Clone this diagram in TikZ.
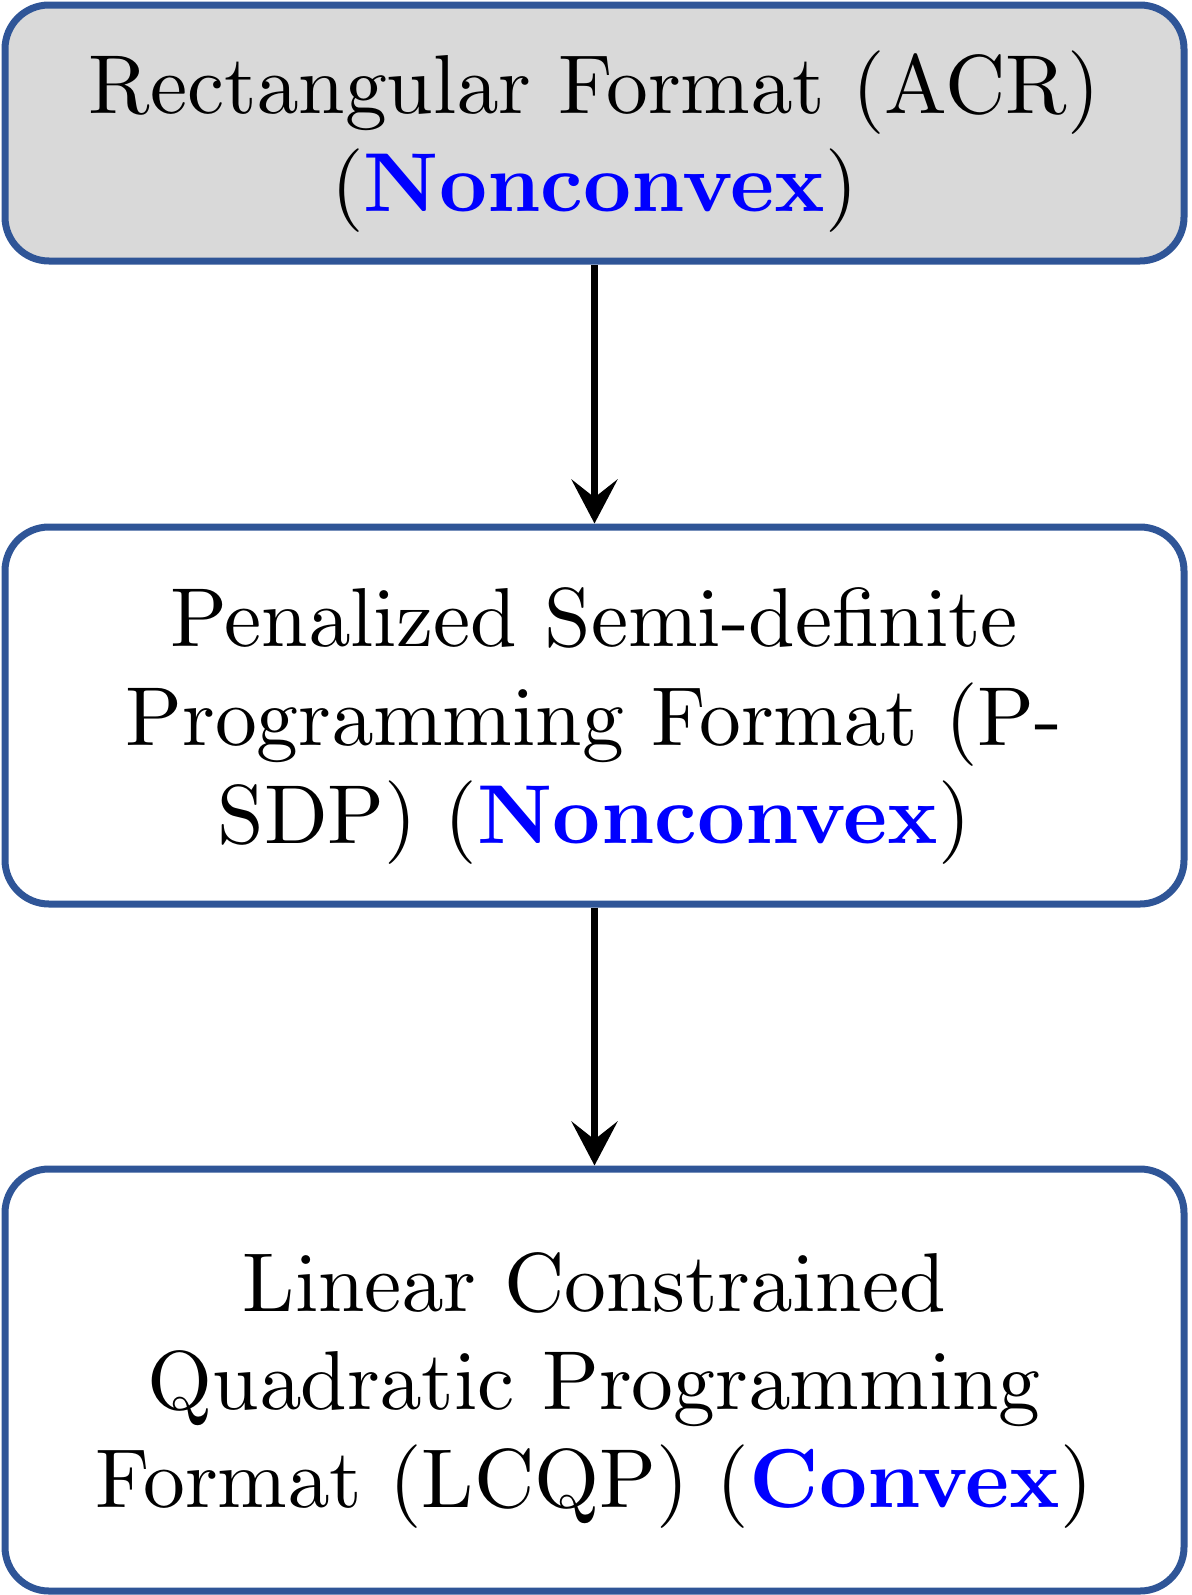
\documentclass[tikz,border=0pt]{standalone}
\usetikzlibrary{arrows.meta}
\definecolor{boxblue}{HTML}{2F5597}
\definecolor{boxgray}{HTML}{D9D9D9}
\font\flowrm=cmr10 at 20.9pt
\font\flowbf=cmbx10 at 20.9pt
\newcommand{\hl}[1]{\textcolor{blue}{\flowbf #1}}
\newcommand{\topgap}{\rule{0pt}{20pt}}
\begin{document}
\begin{tikzpicture}[x=0.25pt,y=-0.25pt,
  flowbox/.style={draw=boxblue,line width=1.75pt,rounded corners=11pt,
    minimum width=294.75pt,align=center,inner sep=0pt,
    font=\fontsize{20.9}{24.6}\selectfont\flowrm},
  flowarrow/.style={line width=1.75pt,-{Stealth[length=11pt,width=11.5pt,inset=4.5pt]}}]
\useasboundingbox (0,0) rectangle (1191,1595);
\node[flowbox,fill=boxgray,minimum height=64pt] (acr) at (594.5,133)
  {\topgap Rectangular Format (ACR)\\(\hl{Nonconvex})};
\node[flowbox,fill=white,minimum height=94.25pt] (psdp) at (594.5,715.5)
  {\topgap Penalized Semi-definite\\Programming Format (P-\\SDP) (\hl{Nonconvex})};
\node[flowbox,fill=white,minimum height=105.5pt] (lcqp) at (594.5,1380)
  {\topgap Linear Constrained\\Quadratic Programming\\Format (LCQP) (\hl{Convex})};
\draw[flowarrow] (acr.south) -- (psdp.north);
\draw[flowarrow] (psdp.south) -- (lcqp.north);
\end{tikzpicture}
\end{document}
